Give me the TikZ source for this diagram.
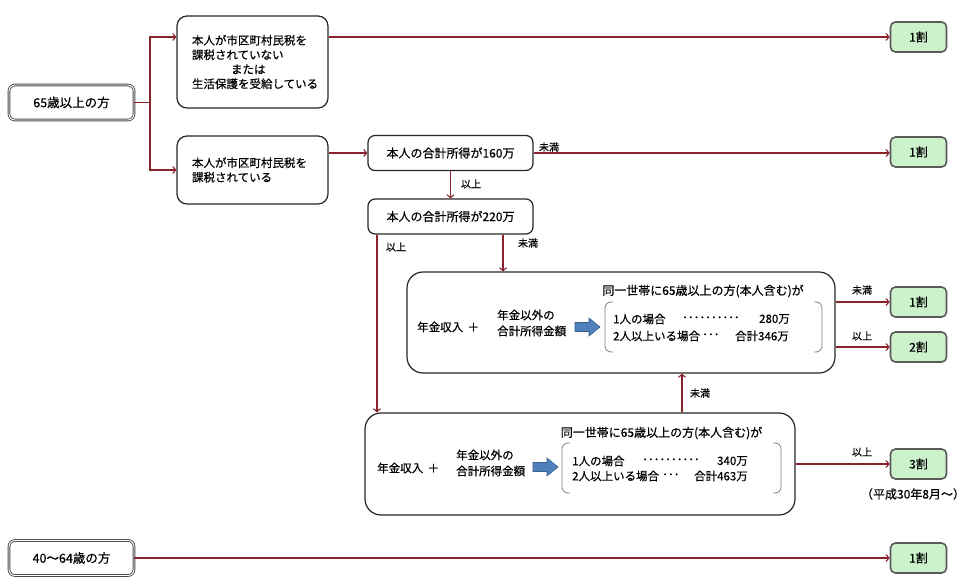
\documentclass[tikz,border=0pt]{standalone}
\usepackage{fontspec}
\setmainfont{Noto Sans CJK JP}[FakeBold=0.5]
\usetikzlibrary{arrows.meta,calc}
\definecolor{ln}{RGB}{139,35,45}
\definecolor{gr}{RGB}{204,242,204}
\definecolor{bl}{RGB}{79,129,189}
\definecolor{bld}{RGB}{56,93,138}
\begin{document}
\begin{tikzpicture}[x=1pt,y=-1pt,
 every node/.style={font=\fontsize{11.5}{14.5}\selectfont, inner sep=0pt},
 arr/.style={draw=ln, line width=1.1pt, -{Straight Barb[length=3pt,width=7pt]}},
 rbox/.style={draw=black!85, line width=1.2pt, rounded corners=10pt, fill=white},
 dbox/.style={draw=black!70, double=white, double distance=0.9pt, line width=0.9pt, rounded corners=6pt, minimum width=125, minimum height=35, font=\fontsize{12.5}{15}\selectfont},
 gbox/.style={draw=black!65, line width=1.6pt, rounded corners=5pt, fill=gr, minimum width=56, minimum height=30, font=\fontsize{12}{14}\selectfont},
 lbl/.style={font=\fontsize{10}{11}\selectfont},
 brk/.style={draw=black!50, line width=0.8pt, rounded corners=6pt},
 barrow/.style={fill=bl, draw=bld, line width=0.6pt},
 two/.style={align=left, font=\fontsize{11.5}{16}\selectfont},
 ttl/.style={font=\fontsize{12}{14}\selectfont},
 pbox/.style={rbox, rounded corners=7pt, minimum width=165, minimum height=35, font=\fontsize{12}{14}\selectfont}
 ]
\useasboundingbox (0,0) rectangle (973,588);
% left boxes
\node[dbox] (s65) at (71.5,102.5) {65歳以上の方};
\node[dbox] (s40) at (71.5,558) {40〜64歳の方};
\node[rbox, minimum width=151, minimum height=92, text width=121, align=left] (A) at (252.5,62) {本人が市区町村民税を\\課税されていない\\\hspace*{39pt}または\\生活保護を受給している};
\node[rbox, minimum width=151, minimum height=68, text width=121, align=left] (B) at (252.5,170) {本人が市区町村民税を\\課税されている};
\node[pbox] (p160) at (450.5,153) {本人の合計所得が160万};
\node[pbox] (p220) at (450.5,216.5) {本人の合計所得が220万};
\node[rbox, rounded corners=16pt, minimum width=428, minimum height=101] (C) at (621,322.5) {};
\node[rbox, rounded corners=16pt, minimum width=430, minimum height=102] (D) at (580,464) {};
% result boxes
\node[gbox] (o1) at (918.5,37) {1割};
\node[gbox] (o2) at (918.5,152) {1割};
\node[gbox] (o3) at (918.5,302) {1割};
\node[gbox] (o4) at (918.5,347) {2割};
\node[gbox] (o5) at (918.5,464) {3割};
\node[gbox] (o6) at (918.5,558) {1割};
\node[font=\fontsize{12}{14}\selectfont] (nt) at (913,494) {（平成30年8月～）};
% box C content
\node[ttl] (ct) at (703,291) {同一世帯に65歳以上の方(本人含む)が};
\node[anchor=west] (ca) at (417,327) {年金収入 \,＋};
\node[anchor=west, two] (cb) at (497,323) {年金以外の\\合計所得金額};
\draw[barrow, shift={(575,327)}] (0,-4.5) -- (14,-4.5) -- (14,-9) -- (25,0) -- (14,9) -- (14,4.5) -- (0,4.5) -- cycle;
\draw[brk] (613,302) -- (605,302) -- (605,352) -- (613,352);
\draw[brk] (814,302) -- (822,302) -- (822,352) -- (814,352);
\node[anchor=west] (c11) at (613,319) {1人の場合};
\node[anchor=west] (c12) at (682,319) {･･････････};
\node[anchor=east] (c13) at (790,319) {280万};
\node[anchor=west] (c21) at (613,336) {2人以上いる場合};
\node[anchor=west] (c22) at (702,336) {･･･};
\node[anchor=east] (c23) at (789,336) {合計346万};
% box D content
\node[ttl] (dt) at (661.5,433) {同一世帯に65歳以上の方(本人含む)が};
\node[anchor=west] (da) at (377,468) {年金収入 \,＋};
\node[anchor=west, two] (db) at (456,463) {年金以外の\\合計所得金額};
\draw[barrow, shift={(533,467)}] (0,-4.5) -- (14,-4.5) -- (14,-9) -- (25,0) -- (14,9) -- (14,4.5) -- (0,4.5) -- cycle;
\draw[brk] (570,443) -- (562,443) -- (562,493) -- (570,493);
\draw[brk] (773,443) -- (781,443) -- (781,493) -- (773,493);
\node[anchor=west] (d11) at (572,461) {1人の場合};
\node[anchor=west] (d12) at (642,461) {･･････････};
\node[anchor=east] (d13) at (748,461) {340万};
\node[anchor=west] (d21) at (572,476) {2人以上いる場合};
\node[anchor=west] (d22) at (662,476) {･･･};
\node[anchor=east] (d23) at (748,476) {合計463万};
% connectors
\coordinate (br) at (150,102.5);
\draw[arr] (s65.east) -- (br) |- (A.west |- o1.west);
\draw[arr] (br) |- (B.west);
\draw[arr] (A.east |- o1.west) -- (o1.west);
\draw[arr] (B.east |- p160.west) -- (p160.west);
\draw[arr] (p160.east) -- (p160.east -| o2.west);
\draw[arr] (p160.south) -- (p220.north);
\coordinate (c1) at ($(p220.south)+(52.5,0)$);
\coordinate (c2) at ($(p220.south)+(-73.5,0)$);
\coordinate (c3) at ($(D.north)+(102,0)$);
\draw[arr] (c1) -- (c1 |- C.north);
\draw[arr] (c2) -- (c2 |- D.north);
\draw[arr] (c3) -- (c3 |- C.south);
\draw[arr] (C.east |- o3.west) -- (o3.west);
\draw[arr] (C.east |- o4.west) -- (o4.west);
\draw[arr] (D.east) -- (o5.west);
\draw[arr] (s40.east) -- (o6.west);
% labels
\node[lbl] (l1) at (549,147) {未満};
\node[lbl] (l2) at (471,184) {以上};
\node[lbl] (l3) at (396,247) {以上};
\node[lbl] (l4) at (528,243) {未満};
\node[lbl] (l5) at (862,290) {未満};
\node[lbl] (l6) at (862,336) {以上};
\node[lbl] (l7) at (700,393) {未満};
\node[lbl] (l8) at (862,452) {以上};
\end{tikzpicture}
\end{document}
